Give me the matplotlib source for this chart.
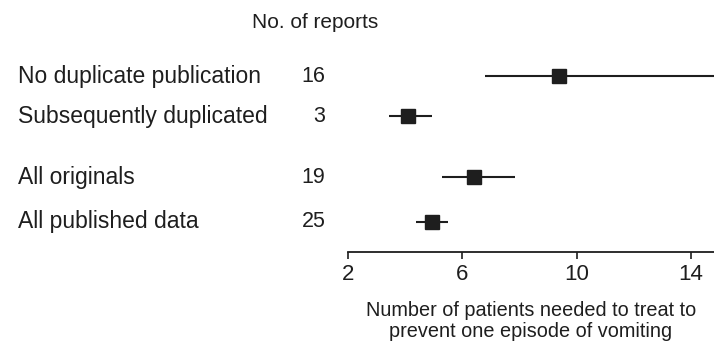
import matplotlib.pyplot as plt

plt.rcParams['font.family'] = ['Liberation Sans', 'DejaVu Sans']

labels = ["No duplicate publication", "Subsequently duplicated", "All originals", "All published data"]
reports = [16, 3, 19, 25]
nnt = [9.4, 4.1, 6.4, 4.95]
ci_low = [6.8, 3.45, 5.3, 4.4]
ci_high = [16.0, 4.95, 7.85, 5.5]
rows = [0, 1, 2.5, 3.6]
ticks = [2, 6, 10, 14]

ink = "#1e1e1e"
fig = plt.figure(figsize=(7.14, 3.47), dpi=100)
ax = fig.add_axes([0.487, 0.274, 0.513, 0.60])

for y, m, lo, hi in zip(rows, nnt, ci_low, ci_high):
    ax.plot([lo, hi], [y, y], color=ink, lw=1.5, solid_capstyle="butt")
    ax.plot(m, y, marker="s", ms=9.5, color=ink, mec=ink)

ax.set_xlim(2, 14.8)
ax.set_ylim(4.35, -0.8)
ax.set_xticks(ticks)
ax.tick_params(axis="x", direction="out", length=5, width=1.2, colors=ink,
               labelsize=16, pad=4)
ax.set_yticks([])
for s in ["top", "right", "left"]:
    ax.spines[s].set_visible(False)
ax.spines["bottom"].set_linewidth(1.3)
ax.spines["bottom"].set_color(ink)
ax.set_xlabel("Number of patients needed to treat to\nprevent one episode of vomiting",
              fontsize=14.3, color=ink, labelpad=11, linespacing=1.15)

# left-hand table
for y, lab, n in zip(rows, labels, reports):
    ax.annotate(lab, xy=(0.025, y), xycoords=("figure fraction", "data"),
                ha="left", va="center", fontsize=16.5, color=ink, annotation_clip=False)
    ax.annotate(str(n), xy=(0.456, y), xycoords=("figure fraction", "data"),
                ha="right", va="center", fontsize=15.5, color=ink, annotation_clip=False)

fig.text(0.442, 0.935, "No. of reports", ha="center", va="center", fontsize=15, color=ink)

fig.savefig("out.png", dpi=100)
